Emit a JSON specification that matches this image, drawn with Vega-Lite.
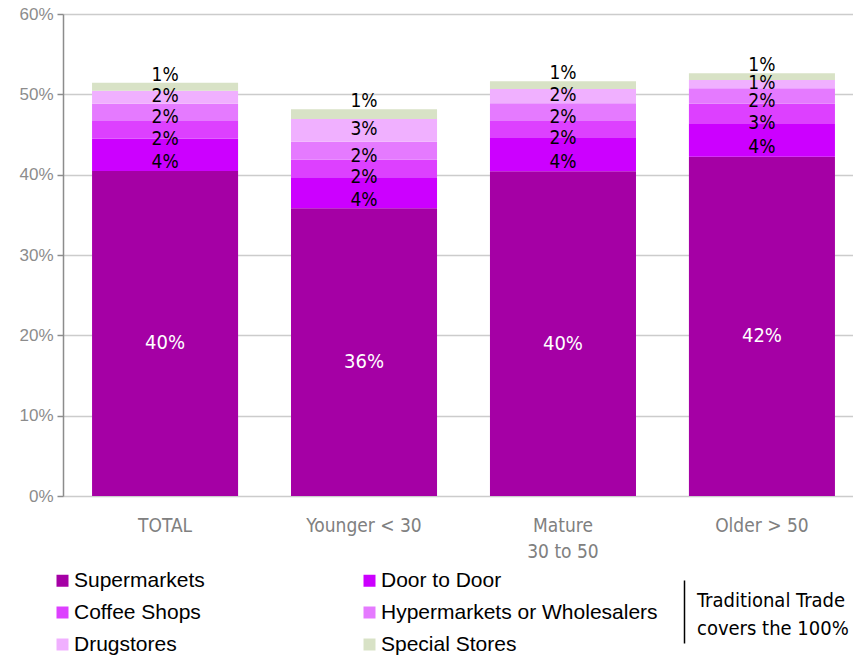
{
  "$schema": "https://vega.github.io/schema/vega-lite/v6.json",
  "width": 801,
  "height": 482,
  "autosize": {"type": "none"},
  "padding": {"left": 63, "top": 14, "right": 0, "bottom": 161},
  "background": "white",
  "config": {
    "view": {"stroke": null},
    "font": "Liberation Sans",
    "axis": {"labelFont": "Liberation Sans", "labelColor": "#8c8c8c"},
    "style": {"guide-label": {"lineHeight": 28}}
  },
  "datasets": {
    "shares": [
      {"group": "TOTAL", "channel": "Supermarkets", "ord": 1, "value": 0.4046},
      {"group": "TOTAL", "channel": "Door to Door", "ord": 2, "value": 0.0402},
      {"group": "TOTAL", "channel": "Coffee Shops", "ord": 3, "value": 0.0220},
      {"group": "TOTAL", "channel": "Hypermarkets or Wholesalers", "ord": 4, "value": 0.0216},
      {"group": "TOTAL", "channel": "Drugstores", "ord": 5, "value": 0.0162},
      {"group": "TOTAL", "channel": "Special Stores", "ord": 6, "value": 0.0099},
      {"group": "Younger < 30", "channel": "Supermarkets", "ord": 1, "value": 0.3581},
      {"group": "Younger < 30", "channel": "Door to Door", "ord": 2, "value": 0.0386},
      {"group": "Younger < 30", "channel": "Coffee Shops", "ord": 3, "value": 0.0220},
      {"group": "Younger < 30", "channel": "Hypermarkets or Wholesalers", "ord": 4, "value": 0.0224},
      {"group": "Younger < 30", "channel": "Drugstores", "ord": 5, "value": 0.0282},
      {"group": "Younger < 30", "channel": "Special Stores", "ord": 6, "value": 0.0121},
      {"group": "Mature 30 to 50", "channel": "Supermarkets", "ord": 1, "value": 0.4042},
      {"group": "Mature 30 to 50", "channel": "Door to Door", "ord": 2, "value": 0.0415},
      {"group": "Mature 30 to 50", "channel": "Coffee Shops", "ord": 3, "value": 0.0211},
      {"group": "Mature 30 to 50", "channel": "Hypermarkets or Wholesalers", "ord": 4, "value": 0.0220},
      {"group": "Mature 30 to 50", "channel": "Drugstores", "ord": 5, "value": 0.0179},
      {"group": "Mature 30 to 50", "channel": "Special Stores", "ord": 6, "value": 0.0095},
      {"group": "Older > 50", "channel": "Supermarkets", "ord": 1, "value": 0.4224},
      {"group": "Older > 50", "channel": "Door to Door", "ord": 2, "value": 0.0407},
      {"group": "Older > 50", "channel": "Coffee Shops", "ord": 3, "value": 0.0253},
      {"group": "Older > 50", "channel": "Hypermarkets or Wholesalers", "ord": 4, "value": 0.0191},
      {"group": "Older > 50", "channel": "Drugstores", "ord": 5, "value": 0.0104},
      {"group": "Older > 50", "channel": "Special Stores", "ord": 6, "value": 0.0083}
    ],
    "note": [{"note": "Traditional Trade covers the 100%"}]
  },
  "layer": [
    {
      "data": {"name": "shares"},
      "mark": {"type": "bar"},
      "encoding": {
        "x": {
          "field": "group", "type": "nominal", "sort": null,
          "scale": {"paddingInner": 0.266, "paddingOuter": 0.146},
          "axis": {
            "title": null, "domain": false, "ticks": false, "labelAngle": 0,
            "labelFont": "DejaVu Sans Condensed, Roboto, sans-serif", "labelFontSize": 19, "labelColor": "#808080",
            "labelPadding": 20, "labelBaseline": "top", "labelLineHeight": 26,
            "labelExpr": "datum.value == 'Mature 30 to 50' ? ['Mature', '30 to 50'] : datum.value"
          }
        },
        "y": {
          "field": "value", "type": "quantitative", "stack": "zero",
          "scale": {"domain": [0, 0.6], "nice": false},
          "axis": {
            "title": null, "format": ".0%", "values": [0, 0.1, 0.2, 0.3, 0.4, 0.5, 0.6],
            "domainColor": "#8c8c8c", "domainWidth": 1.5, "tickColor": "#8c8c8c", "tickSize": 6, "tickWidth": 1.5,
            "gridColor": "#cccccc", "gridWidth": 1.5, "labelFontSize": 17, "labelColor": "#8c8c8c", "labelPadding": 4
          }
        },
        "order": {"field": "ord", "type": "quantitative"},
        "color": {
          "field": "channel", "type": "nominal",
          "scale": {
            "domain": ["Supermarkets", "Door to Door", "Coffee Shops", "Hypermarkets or Wholesalers", "Drugstores", "Special Stores"],
            "range": ["#A500A5", "#CC00FF", "#DD40FF", "#E57AFF", "#F0B0FF", "#D8E2C6"]
          },
          "legend": {
            "orient": "none", "legendX": -11, "legendY": 556, "direction": "horizontal", "columns": 2,
            "title": null, "symbolType": "square", "symbolSize": 144, "symbolStrokeWidth": 0,
            "labelFont": "Liberation Sans", "labelFontSize": 21, "labelColor": "#000000", "labelOffset": 1,
            "rowPadding": 10, "columnPadding": 154, "labelLimit": 400
          }
        }
      }
    },
    {
      "data": {"name": "shares"},
      "mark": {"type": "text", "font": "DejaVu Sans Condensed, Roboto, sans-serif", "fontSize": 20, "baseline": "middle", "dy": 10, "color": "white"},
      "encoding": {
        "x": {"field": "group", "type": "nominal", "sort": null},
        "y": {"field": "value", "type": "quantitative", "stack": "zero", "bandPosition": 0.5},
        "order": {"field": "ord", "type": "quantitative"},
        "detail": {"field": "channel"},
        "text": {"condition": {"test": "datum.channel === 'Supermarkets'", "field": "value", "format": ".0%"}, "value": ""}
      }
    },
    {
      "data": {"name": "shares"},
      "mark": {"type": "text", "font": "DejaVu Sans Condensed, Roboto, sans-serif", "fontSize": 19, "baseline": "middle", "dy": 7, "color": "black"},
      "encoding": {
        "x": {"field": "group", "type": "nominal", "sort": null},
        "y": {"field": "value", "type": "quantitative", "stack": "zero", "bandPosition": 0.5},
        "order": {"field": "ord", "type": "quantitative"},
        "detail": {"field": "channel"},
        "text": {"condition": {"test": "datum.channel === 'Door to Door'", "field": "value", "format": ".0%"}, "value": ""}
      }
    },
    {
      "data": {"name": "shares"},
      "mark": {"type": "text", "font": "DejaVu Sans Condensed, Roboto, sans-serif", "fontSize": 19, "baseline": "middle", "dy": 9, "color": "black"},
      "encoding": {
        "x": {"field": "group", "type": "nominal", "sort": null},
        "y": {"field": "value", "type": "quantitative", "stack": "zero", "bandPosition": 0.5},
        "order": {"field": "ord", "type": "quantitative"},
        "detail": {"field": "channel"},
        "text": {"condition": {"test": "datum.channel === 'Coffee Shops'", "field": "value", "format": ".0%"}, "value": ""}
      }
    },
    {
      "data": {"name": "shares"},
      "mark": {"type": "text", "font": "DejaVu Sans Condensed, Roboto, sans-serif", "fontSize": 19, "baseline": "middle", "dy": 5, "color": "black"},
      "encoding": {
        "x": {"field": "group", "type": "nominal", "sort": null},
        "y": {"field": "value", "type": "quantitative", "stack": "zero", "bandPosition": 0.5},
        "order": {"field": "ord", "type": "quantitative"},
        "detail": {"field": "channel"},
        "text": {"condition": {"test": "datum.channel === 'Hypermarkets or Wholesalers'", "field": "value", "format": ".0%"}, "value": ""}
      }
    },
    {
      "data": {"name": "shares"},
      "mark": {"type": "text", "font": "DejaVu Sans Condensed, Roboto, sans-serif", "fontSize": 19, "baseline": "middle", "dy": -1, "color": "black"},
      "encoding": {
        "x": {"field": "group", "type": "nominal", "sort": null},
        "y": {"field": "value", "type": "quantitative", "stack": "zero", "bandPosition": 0.5},
        "order": {"field": "ord", "type": "quantitative"},
        "detail": {"field": "channel"},
        "text": {"condition": {"test": "datum.channel === 'Drugstores'", "field": "value", "format": ".0%"}, "value": ""}
      }
    },
    {
      "data": {"name": "shares"},
      "mark": {"type": "text", "font": "DejaVu Sans Condensed, Roboto, sans-serif", "fontSize": 19, "baseline": "alphabetic", "dy": -2, "color": "black"},
      "encoding": {
        "x": {"field": "group", "type": "nominal", "sort": null},
        "y": {"field": "value", "type": "quantitative", "stack": "zero"},
        "order": {"field": "ord", "type": "quantitative"},
        "detail": {"field": "channel"},
        "text": {"condition": {"test": "datum.channel === 'Special Stores'", "field": "value", "format": ".0%"}, "value": ""}
      }
    },
    {
      "data": {"name": "note"},
      "mark": {"type": "point", "opacity": 0},
      "encoding": {
        "shape": {
          "field": "note", "type": "nominal",
          "scale": {"range": ["M0,-0.635L0,1.365"]},
          "legend": {
            "orient": "none", "legendX": 589, "legendY": 554, "title": null,
            "symbolSize": 3969, "symbolStrokeColor": "black", "symbolStrokeWidth": 1.5, "symbolOpacity": 1,
            "symbolFillColor": "transparent",
            "labelFont": "DejaVu Sans Condensed, Roboto, sans-serif", "labelFontSize": 20, "labelColor": "black", "labelOffset": -20,
            "labelExpr": "['Traditional Trade', 'covers the 100%']", "labelLimit": 300
          }
        }
      }
    }
  ]
}
